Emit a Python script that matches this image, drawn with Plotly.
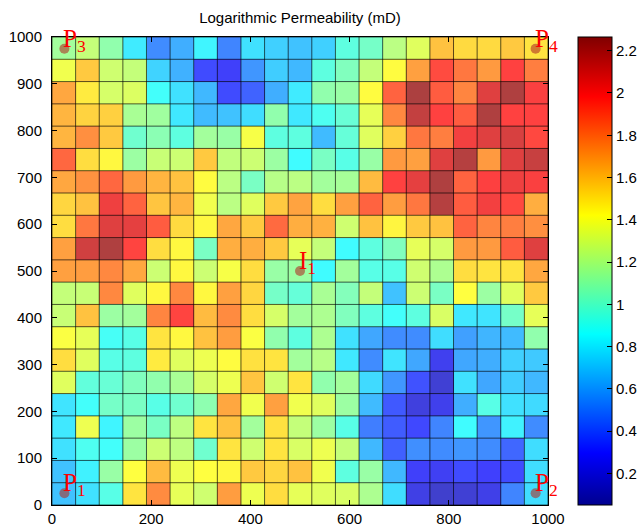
import numpy as np
import plotly.graph_objects as go

# 21 x 21 grid of log-permeability, rows listed from top (y=1000) to bottom (y=0)
rows_top_to_bottom = [
    [1.15,1.25,1.10,0.80,0.52,0.62,0.83,0.50,0.77,0.72,0.68,0.72,0.95,1.02,1.22,1.33,1.60,1.53,1.53,1.58,1.50],
    [1.38,1.58,1.28,1.25,0.73,0.63,0.33,0.28,0.55,0.71,0.65,0.95,1.05,1.25,1.43,1.70,1.95,1.82,1.72,1.98,1.80],
    [1.68,1.48,1.30,1.32,0.87,0.77,0.65,0.33,0.40,0.62,0.80,1.10,1.12,1.43,1.88,2.23,1.90,1.78,2.08,2.22,2.00],
    [1.64,1.55,1.56,1.17,1.14,0.79,0.66,0.68,0.76,1.10,0.79,0.90,0.98,1.35,1.77,2.16,1.98,1.90,2.22,1.98,1.98],
    [1.64,1.75,1.58,1.00,1.08,0.95,1.15,1.12,1.40,0.95,0.95,0.66,0.97,1.33,1.56,1.82,1.80,2.02,2.08,2.10,1.96],
    [1.87,1.52,1.44,1.13,1.26,1.27,1.58,1.24,1.27,1.13,0.85,1.03,0.93,1.12,1.72,1.70,2.08,2.20,1.72,2.08,2.15],
    [1.68,1.74,1.87,1.72,1.64,1.60,1.43,1.22,1.03,1.21,1.22,1.15,1.16,1.62,1.98,2.06,2.22,1.88,1.99,2.03,2.00],
    [1.54,1.60,2.03,1.88,1.59,1.64,1.38,1.22,1.33,1.58,1.69,1.52,1.70,1.88,1.71,1.82,2.20,1.90,2.02,1.96,1.66],
    [1.52,1.82,2.08,2.06,1.90,1.53,1.44,1.68,1.58,1.86,1.66,1.65,1.28,1.60,1.45,1.58,1.60,1.88,1.78,1.80,1.75],
    [1.70,2.12,2.22,1.97,1.52,1.44,1.03,1.66,1.66,1.58,1.35,1.25,0.85,0.95,1.05,1.35,1.30,1.72,1.72,1.90,2.08],
    [1.70,1.71,1.77,1.68,1.27,1.44,1.27,1.40,1.52,1.12,1.13,0.85,1.15,0.93,0.93,1.28,1.18,1.52,1.50,1.50,1.68],
    [1.25,1.26,1.77,1.33,1.44,1.77,1.44,1.70,1.54,1.02,0.97,1.17,1.06,1.25,0.68,1.27,1.03,1.42,1.13,1.33,1.58],
    [1.26,1.60,1.13,1.15,1.78,1.97,1.62,1.76,1.52,1.30,1.15,1.18,1.05,0.95,0.87,0.95,1.31,0.79,0.78,1.02,1.35],
    [1.41,1.35,0.88,0.93,1.50,1.44,1.60,1.71,1.41,1.10,0.95,1.18,0.77,0.60,0.52,0.52,0.76,0.58,0.64,0.66,1.10],
    [1.52,1.33,0.93,0.95,1.48,1.33,1.37,1.43,1.51,1.50,1.15,1.21,0.79,0.52,0.78,0.60,0.25,0.60,0.62,0.72,0.70],
    [1.33,0.96,0.98,1.05,1.10,1.17,1.30,1.37,1.59,1.28,1.50,1.10,1.15,0.75,0.55,0.35,0.17,0.77,0.60,0.71,0.65],
    [0.78,0.87,1.02,1.03,0.93,1.00,1.09,1.68,1.38,1.70,1.38,1.33,1.13,0.66,0.37,0.20,0.24,0.62,0.93,0.77,0.75],
    [0.79,1.37,0.83,1.13,1.03,1.23,1.50,1.60,1.15,1.51,1.25,1.13,0.93,0.48,0.38,0.32,0.50,0.85,0.55,0.82,0.52],
    [0.77,0.90,0.87,1.13,1.27,1.23,1.00,1.50,1.28,1.50,1.31,1.37,1.25,0.65,0.39,0.53,0.52,0.55,0.52,0.41,0.76],
    [0.68,0.82,1.12,1.42,1.62,1.37,1.42,1.44,1.58,1.54,1.60,1.38,0.95,1.12,0.65,0.28,0.26,0.33,0.29,0.33,0.76],
    [0.68,0.77,0.93,1.50,1.76,1.35,1.28,1.71,1.37,1.52,1.35,1.33,1.31,1.18,0.76,0.22,0.15,0.17,0.23,0.50,0.76],
]

n_cells = 21
domain_max = 1000
well_names = ["P<sub>1</sub>", "P<sub>2</sub>", "P<sub>3</sub>", "P<sub>4</sub>", "I<sub>1</sub>"]
well_x = [25, 975, 25, 975, 500]
well_y = [25, 25, 975, 975, 500]
x_ticks = [0, 200, 400, 600, 800, 1000]
y_ticks = [0, 100, 200, 300, 400, 500, 600, 700, 800, 900, 1000]
cbar_ticks = [0.2, 0.4, 0.6, 0.8, 1.0, 1.2, 1.4, 1.6, 1.8, 2.0, 2.2]
cbar_text = ["0.2", "0.4", "0.6", "0.8", "1", "1.2", "1.4", "1.6", "1.8", "2", "2.2"]
z_min, z_max = 0.05, 2.265

z = np.array(rows_top_to_bottom)[::-1]
edges = np.linspace(0, domain_max, n_cells + 1)

jet = [[0.0, "rgb(0,0,143)"], [0.111, "rgb(0,0,255)"], [0.365, "rgb(0,255,255)"],
       [0.619, "rgb(255,255,0)"], [0.873, "rgb(255,0,0)"], [1.0, "rgb(128,0,0)"]]

tick_font = dict(family="Liberation Sans Narrow, Liberation Sans, Arial", size=15, color="black")

fig = go.Figure()
fig.add_trace(go.Heatmap(
    z=z, x=edges, y=edges, zmin=z_min, zmax=z_max, colorscale=jet, opacity=0.75,
    hoverinfo="skip",
    colorbar=dict(x=1.06, xanchor="left", xpad=0, ypad=0, y=0.5, yanchor="middle", len=1.0,
                  lenmode="fraction", thickness=34, outlinewidth=1, outlinecolor="black",
                  tickvals=cbar_ticks, ticktext=cbar_text, ticks="inside", ticklen=5,
                  tickcolor="black", tickfont=tick_font),
))

# cell edge lines
gx, gy = [], []
for e in edges:
    gx += [e, e, None]; gy += [0, domain_max, None]
    gx += [0, domain_max, None]; gy += [e, e, None]
fig.add_trace(go.Scatter(x=gx, y=gy, mode="lines", line=dict(color="rgba(0,0,0,0.65)", width=1),
                         hoverinfo="skip", showlegend=False))

fig.add_trace(go.Scatter(x=well_x, y=well_y, mode="markers",
                         marker=dict(size=10, color="rgba(175,50,40,0.6)"),
                         hoverinfo="skip", showlegend=False, cliponaxis=False))
for name, wx, wy in zip(well_names, well_x, well_y):
    fig.add_annotation(x=wx, y=wy, xref="x", yref="y", text=name, showarrow=False,
                       xanchor="left", yanchor="bottom", xshift=-3, yshift=-9,
                       font=dict(family="Liberation Serif, Times New Roman, serif", size=25, color="red"))

axis_common = dict(range=[0, domain_max], showgrid=False, zeroline=False, ticks="inside", ticklen=5,
                   tickcolor="black", showline=True, linecolor="black", linewidth=1, mirror="ticks",
                   automargin=False, tickfont=tick_font)
fig.update_layout(
    width=641, height=532,
    margin=dict(l=52, r=93, t=37, b=27, autoexpand=False),
    paper_bgcolor="white", plot_bgcolor="white",
    title=dict(text="Logarithmic Permeability (mD)", x=(52 + 548) / 2 / 641, xanchor="center",
               y=1 - 18 / 532, yanchor="middle",
               font=dict(family="Liberation Sans, Arial", size=15, color="black")),
    xaxis=dict(tickvals=x_ticks, **axis_common),
    yaxis=dict(tickvals=y_ticks, ticklabelstandoff=6, **axis_common),
    showlegend=False,
)
fig.write_html("out.html", config={"displayModeBar": False},
               post_script="document.body.style.margin='0';document.body.style.overflow='hidden';")
